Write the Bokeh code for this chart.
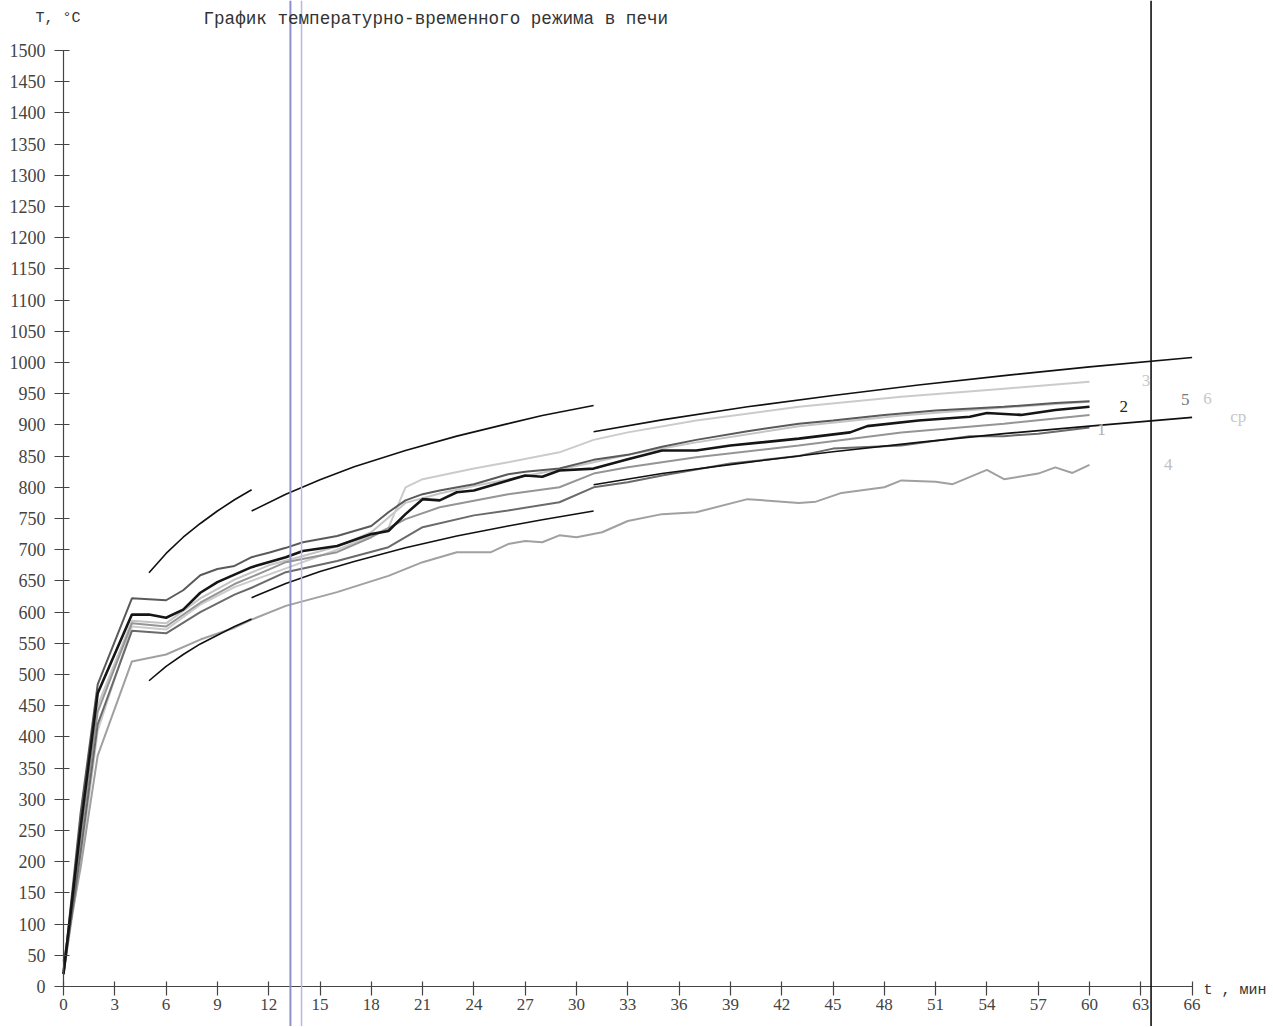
from bokeh.plotting import figure
from bokeh.models import Span, Label, Range1d, FixedTicker
from bokeh.embed import file_html
from bokeh.resources import INLINE
from bokeh.core.properties import value

# ---------------- data ----------------
x_ticks = list(range(0, 67, 3))
y_ticks = list(range(0, 1501, 50))

# tolerance bounds of the standard fire curve
up_a_t = [5, 6, 7, 8, 9, 10, 11]
up_a_T = [663, 694, 720, 742, 762, 780, 796]
lo_a_t = [5, 6, 7, 8, 9, 10, 11]
lo_a_T = [490, 513, 532, 549, 563, 577, 589]
up_b_t = [11, 13, 15, 17, 20, 23, 26, 28, 31]
up_b_T = [762, 789, 812, 833, 859, 882, 902, 915, 931]
lo_b_t = [11, 13, 15, 17, 20, 23, 26, 28, 31]
lo_b_T = [623, 646, 665, 681, 703, 722, 738, 748, 762]
up_c_t = [31, 35, 40, 45, 50, 55, 60, 66]
up_c_T = [889, 908, 929, 947, 964, 979, 993, 1008]
lo_c_t = [31, 35, 40, 45, 50, 55, 60, 66]
lo_c_T = [804, 822, 840, 857, 872, 886, 898, 912]

# measured curves
c1_t = [0, 1, 2, 4, 6, 8, 10, 11, 13, 16, 19, 21, 24, 26, 29, 31, 33, 35, 39, 43, 45, 49, 53, 55, 57, 60]
c1_T = [20, 215, 420, 570, 566, 600, 628, 639, 664, 682, 704, 736, 755, 763, 776, 800, 808, 819, 838, 850, 862, 867, 882, 882, 886, 896]

c2_t = [0, 1, 2, 4, 5, 6, 7, 8, 9, 10, 11, 13, 14, 16, 18, 19, 20, 21, 22, 23, 24, 26, 27, 28, 29, 31, 33, 35, 37, 39, 43, 46, 47, 50, 53, 54, 56, 58, 60]
c2_T = [20, 255, 470, 596, 596, 591, 604, 631, 648, 660, 672, 688, 698, 706, 725, 730, 757, 781, 779, 792, 795, 811, 819, 817, 827, 830, 845, 859, 859, 867, 878, 888, 898, 907, 913, 919, 916, 924, 929]

c3_t = [0, 1, 2, 4, 6, 8, 10, 12, 14, 16, 18, 19, 20, 21, 24, 26, 29, 31, 33, 37, 43, 49, 55, 60]
c3_T = [20, 200, 410, 577, 572, 612, 640, 660, 680, 700, 722, 735, 800, 813, 830, 840, 856, 876, 888, 907, 929, 945, 958, 969]

c4_t = [0, 1, 2, 4, 6, 8, 10, 11, 13, 16, 19, 21, 23, 25, 26, 27, 28, 29, 30, 31.5, 33, 35, 37, 40, 43, 44, 45.5, 48, 49, 51, 52, 54, 55, 57, 58, 59, 60]
c4_T = [40, 190, 370, 521, 532, 556, 575, 588, 610, 632, 658, 680, 696, 696, 709, 714, 712, 723, 720, 728, 746, 757, 760, 781, 775, 777, 791, 800, 811, 809, 805, 828, 813, 822, 832, 823, 836]

c5_t = [0, 1, 2, 4, 6, 7, 8, 9, 10, 11, 12, 13, 14, 16, 18, 19, 20, 21, 22, 24, 26, 27, 29, 31, 33, 35, 37, 40, 43, 45, 48, 51, 55, 58, 60]
c5_T = [20, 278, 484, 622, 619, 635, 659, 669, 674, 688, 695, 703, 712, 722, 738, 760, 779, 789, 795, 805, 821, 825, 830, 844, 852, 865, 876, 890, 902, 907, 916, 923, 929, 935, 938]

c6_t = [0, 1, 2, 4, 6, 8, 10, 12, 14, 16, 18, 20, 22, 24, 27, 30, 33, 37, 43, 49, 55, 60]
c6_T = [20, 240, 450, 586, 582, 622, 652, 675, 690, 705, 728, 775, 790, 802, 818, 834, 852, 872, 898, 915, 928, 937]

cav_t = [0, 1, 2, 4, 6, 8, 10, 12, 13, 16, 18, 20, 22, 26, 29, 31, 33, 37, 43, 49, 55, 60]
cav_T = [25, 235, 440, 582, 577, 615, 645, 668, 680, 696, 720, 749, 768, 789, 800, 822, 832, 848, 867, 888, 902, 916]

lab_text = ["1", "2", "3", "4", "5", "6", "ср"]
lab_t = [60.7, 62.0, 63.3, 64.6, 65.6, 66.9, 68.7]
lab_T = [893, 930, 971, 837, 940, 942, 914]
lab_col = ["#b0b0b0", "#222222", "#c8c8c8", "#c0c0c0", "#777777", "#c8c8c8", "#c8c8c8"]

furnace_end = 63.6
scan_lines = [13.27, 13.92]

# ---------------- figure ----------------
W, H = 1272, 1026
px_per_min = 17.1
px_per_deg = 0.624
x0_px, y0_px = 63, 986
x_lo = -x0_px / px_per_min
x_hi = (W - x0_px) / px_per_min
y_hi = y0_px / px_per_deg
y_lo = -(H - y0_px) / px_per_deg

p = figure(width=W, height=H, output_backend="svg", toolbar_location=None,
           x_range=Range1d(x_lo, x_hi), y_range=Range1d(y_lo, y_hi),
           min_border_left=0, min_border_right=0, min_border_top=0, min_border_bottom=0,
           background_fill_color="white", border_fill_color="white")
p.outline_line_color = None
p.grid.visible = False

SERIF = "'Liberation Serif', 'Times New Roman', serif"

for ax, ticks, bnd in ((p.xaxis[0], x_ticks, (0, 66)), (p.yaxis[0], y_ticks, (0, 1500))):
    ax.ticker = FixedTicker(ticks=ticks)
    ax.bounds = bnd
    ax.fixed_location = 0
    ax.axis_line_color = "#444444"
    ax.axis_line_width = 1.2
    ax.major_tick_line_color = "#444444"
    ax.major_tick_line_width = 1.2
    ax.minor_tick_line_color = None
    ax.major_label_text_font = SERIF
    ax.major_label_text_color = "#444444"

p.xaxis.major_label_text_font_size = "17px"
p.yaxis.major_label_text_font_size = "18px"
p.xaxis.major_tick_in = 5
p.xaxis.major_tick_out = 9
p.xaxis.major_label_standoff = 3
p.yaxis.major_tick_in = 6
p.yaxis.major_tick_out = 9
p.yaxis.major_label_standoff = 9

# scanner lines and end-of-test line
p.add_layout(Span(location=scan_lines[0], dimension="height", line_color="#9090c8", line_width=2))
p.add_layout(Span(location=scan_lines[1], dimension="height", line_color="#b8b8e2", line_width=1.5))
p.add_layout(Span(location=furnace_end, dimension="height", line_color="#111111", line_width=1.6))

# curves
p.line(c6_t, c6_T, line_color="#c4c4c4", line_width=2)
p.line(c3_t, c3_T, line_color="#cbcbcb", line_width=2)
p.line(c4_t, c4_T, line_color="#a0a0a0", line_width=2)
p.line(cav_t, cav_T, line_color="#959595", line_width=2)
p.line(c1_t, c1_T, line_color="#6a6a6a", line_width=2)
p.line(c5_t, c5_T, line_color="#5a5a5a", line_width=2)
p.line(c2_t, c2_T, line_color="#151515", line_width=2.6)

for bt, bT in ((up_a_t, up_a_T), (lo_a_t, lo_a_T), (up_b_t, up_b_T),
               (lo_b_t, lo_b_T), (up_c_t, up_c_T), (lo_c_t, lo_c_T)):
    p.line(bt, bT, line_color="#111111", line_width=1.6)

p.text(x=lab_t, y=lab_T, text=lab_text, text_color=lab_col,
       text_font=value(SERIF), text_font_size="17px",
       text_align="center", text_baseline="middle")

# texts
p.add_layout(Label(x=(203 - x0_px) / px_per_min, y=(y0_px - 18) / px_per_deg,
                   text="График температурно-временного режима в печи",
                   text_font="Liberation Mono", text_font_size="17.6px", text_color="#333333",
                   text_baseline="middle"))
p.add_layout(Label(x=(35 - x0_px) / px_per_min, y=(y0_px - 18) / px_per_deg, text="T,  °C",
                   text_font="Liberation Mono", text_font_size="15px", text_color="#333333",
                   text_baseline="middle"))
p.add_layout(Label(x=(1203 - x0_px) / px_per_min, y=(y0_px - 990) / px_per_deg, text="t , мин",
                   text_font="Liberation Mono", text_font_size="15px", text_color="#333333",
                   text_baseline="middle"))

open("out.html", "w").write(file_html(p, INLINE))
